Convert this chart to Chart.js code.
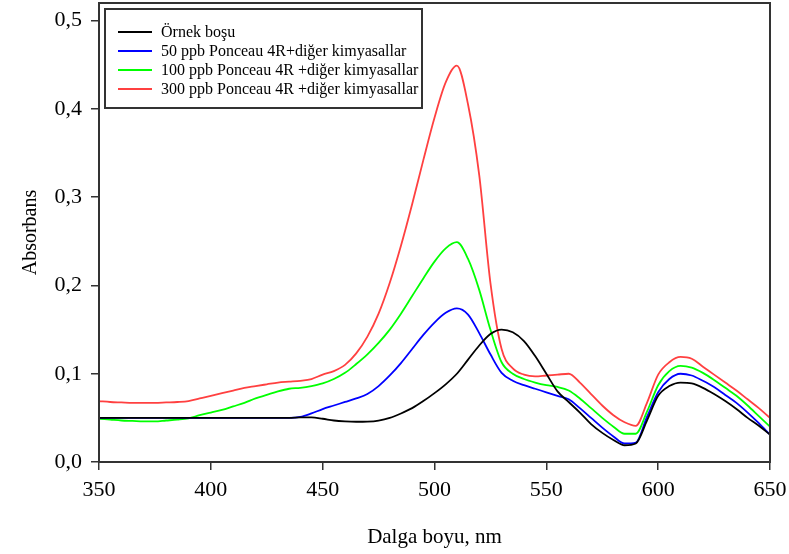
<!DOCTYPE html>
<html>
<head>
<meta charset="utf-8">
<script src="https://cdn.jsdelivr.net/npm/chart.js@4/dist/chart.umd.min.js"></script>
<style>
  html, body { margin: 0; padding: 0; background: #fff; }
  #wrap { width: 789px; height: 554px; }
</style>
</head>
<body>
<div id="wrap"><canvas id="c" width="789" height="554"></canvas></div>
<script>
const wavelengths = [350,355,360,365,370,375,380,385,390,395,400,405,410,415,420,425,430,435,440,445,450,455,460,465,470,475,480,485,490,495,500,505,510,515,520,525,530,535,540,545,550,555,560,565,570,575,580,585,590,595,600,605,610,615,620,625,630,635,640,645,650];

const seriesLabels = [
  "Örnek boşu",
  "50 ppb Ponceau 4R+diğer kimyasallar",
  "100 ppb Ponceau 4R +diğer kimyasallar",
  "300 ppb Ponceau 4R +diğer kimyasallar"
];

const blank = [0.050,0.050,0.050,0.050,0.050,0.050,0.050,0.050,0.050,0.050,0.050,0.050,0.050,0.050,0.050,0.050,0.050,0.050,0.0505,0.0505,0.049,0.047,0.046,0.0456,0.0458,0.047,0.050,0.055,0.061,0.069,0.078,0.088,0.100,0.116,0.132,0.145,0.150,0.147,0.137,0.120,0.100,0.080,0.068,0.056,0.043,0.033,0.025,0.019,0.021,0.047,0.075,0.086,0.090,0.089,0.084,0.077,0.069,0.060,0.050,0.041,0.031];

const ppb50 = [0.050,0.050,0.050,0.050,0.050,0.050,0.050,0.050,0.050,0.050,0.050,0.050,0.050,0.050,0.050,0.050,0.050,0.050,0.051,0.055,0.060,0.064,0.068,0.072,0.077,0.086,0.098,0.112,0.128,0.144,0.158,0.169,0.174,0.167,0.146,0.122,0.101,0.092,0.087,0.083,0.079,0.075,0.071,0.061,0.050,0.039,0.029,0.021,0.022,0.051,0.079,0.094,0.100,0.098,0.092,0.085,0.076,0.067,0.056,0.044,0.031];

const ppb100 = [0.049,0.048,0.047,0.0465,0.046,0.046,0.047,0.048,0.0495,0.053,0.056,0.059,0.063,0.067,0.072,0.076,0.080,0.083,0.084,0.086,0.089,0.094,0.101,0.111,0.122,0.135,0.150,0.168,0.188,0.208,0.227,0.242,0.249,0.230,0.195,0.150,0.113,0.100,0.094,0.090,0.087,0.085,0.081,0.072,0.061,0.050,0.040,0.032,0.032,0.057,0.087,0.103,0.109,0.107,0.101,0.093,0.084,0.075,0.064,0.052,0.040];

const ppb300 = [0.069,0.068,0.0675,0.067,0.067,0.067,0.0675,0.068,0.069,0.072,0.075,0.078,0.081,0.084,0.086,0.088,0.090,0.091,0.092,0.094,0.099,0.103,0.110,0.123,0.142,0.168,0.203,0.245,0.292,0.342,0.390,0.430,0.449,0.405,0.325,0.203,0.128,0.106,0.099,0.097,0.098,0.099,0.100,0.090,0.077,0.064,0.053,0.045,0.041,0.067,0.099,0.113,0.119,0.117,0.108,0.099,0.090,0.081,0.071,0.061,0.050];

const xTickLabels = ["350","400","450","500","550","600","650"];
const yTickLabels = ["0,0","0,1","0,2","0,3","0,4","0,5"];
const xTitle = "Dalga boyu, nm";
const yTitle = "Absorbans";

const seriesValues = [blank, ppb50, ppb100, ppb300];
const seriesColors = ["#000000", "#0000ff", "#00ff00", "#ff4040"];

const datasets = seriesValues.map((vals, i) => ({
  label: seriesLabels[i],
  data: vals.map((v, j) => ({ x: wavelengths[j], y: v })),
  borderColor: seriesColors[i],
  backgroundColor: seriesColors[i],
  borderWidth: 1.8,
  pointRadius: 0,
  fill: false,
  cubicInterpolationMode: 'monotone'
}));

const serif = "'Liberation Serif', 'Times New Roman', serif";

const framePlugin = {
  id: 'frame',
  afterDatasetsDraw(chart) {
    const { ctx, chartArea: a } = chart;
    ctx.save();
    ctx.strokeStyle = '#333';
    ctx.lineWidth = 2;
    ctx.strokeRect(a.left, a.top, a.right - a.left, a.bottom - a.top);
    ctx.restore();
  }
};

const legendBoxPlugin = {
  id: 'legendBox',
  afterDraw(chart) {
    const { ctx, chartArea: a } = chart;
    const bx = a.left + 6, by = a.top + 6, bw = 317, bh = 99;
    ctx.save();
    ctx.fillStyle = '#fff';
    ctx.fillRect(bx, by, bw, bh);
    ctx.strokeStyle = '#333';
    ctx.lineWidth = 2;
    ctx.strokeRect(bx, by, bw, bh);
    ctx.font = "16px " + serif;
    ctx.textBaseline = 'middle';
    ctx.textAlign = 'left';
    chart.data.datasets.forEach((ds, i) => {
      const y = by + 23 + i * 19;
      ctx.strokeStyle = ds.borderColor;
      ctx.lineWidth = 2;
      ctx.beginPath();
      ctx.moveTo(bx + 13, y);
      ctx.lineTo(bx + 47, y);
      ctx.stroke();
      ctx.fillStyle = '#000';
      ctx.fillText(ds.label, bx + 56, y + 1);
    });
    ctx.restore();
  }
};

new Chart(document.getElementById('c'), {
  type: 'line',
  data: { datasets },
  plugins: [framePlugin, legendBoxPlugin],
  options: {
    responsive: false,
    animation: false,
    devicePixelRatio: 1,
    layout: { padding: { left: 0, top: 3, right: 19, bottom: 0 } },
    plugins: { legend: { display: false }, tooltip: { enabled: false } },
    scales: {
      x: {
        type: 'linear',
        min: 350, max: 650,
        afterFit(scale) { scale.height = 92; scale.paddingLeft = 0; scale.paddingRight = 0; },
        ticks: {
          stepSize: 50,
          padding: 7,
          color: '#000',
          font: { family: serif, size: 22 },
          callback: (v, i) => xTickLabels[i]
        },
        grid: { drawOnChartArea: false, drawTicks: true, tickLength: 8, color: '#333', lineWidth: 1.5 },
        border: { color: '#333', width: 2 },
        title: { display: true, text: xTitle, color: '#000', font: { family: serif, size: 21 }, padding: { top: 0, bottom: 4 } }
      },
      y: {
        type: 'linear',
        min: 0, max: 0.52,
        afterFit(scale) { scale.width = 99; scale.paddingTop = 0; scale.paddingBottom = 0; },
        ticks: {
          stepSize: 0.1,
          includeBounds: false,
          padding: 9,
          color: '#000',
          font: { family: serif, size: 22 },
          callback: (v, i) => yTickLabels[i]
        },
        grid: { drawOnChartArea: false, drawTicks: true, tickLength: 8, color: '#333', lineWidth: 1.5 },
        border: { color: '#333', width: 2 },
        title: { display: true, text: yTitle, color: '#000', font: { family: serif, size: 20 }, padding: { top: 19, bottom: 0 } }
      }
    }
  }
});
</script>
</body>
</html>
